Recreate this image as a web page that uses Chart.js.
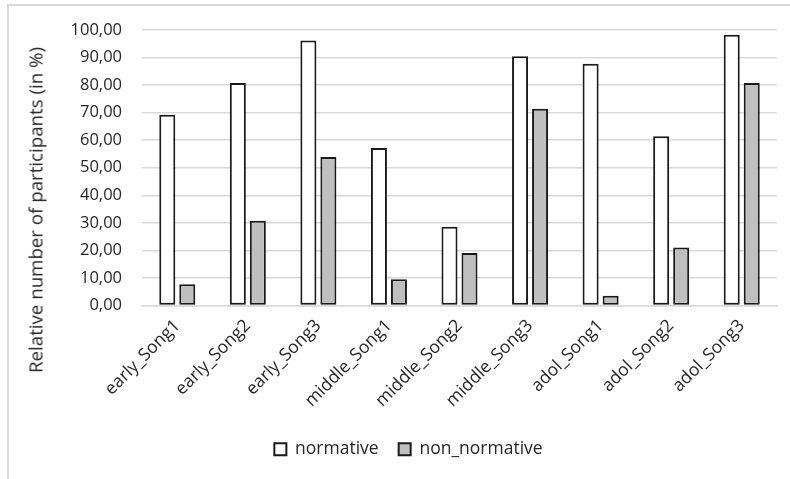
<!DOCTYPE html>
<html>
<head>
<meta charset="utf-8">
<script src="https://cdn.jsdelivr.net/npm/chart.js@4/dist/chart.umd.min.js"></script>
<style>
  html, body { margin: 0; padding: 0; background: #fff; }
  #frame { position: absolute; left: 7px; top: 4px; width: 800px; height: 500px;
           border-left: 2px solid #d9d9d9; border-top: 2px solid #d9d9d9; }
  #wrap { position: absolute; left: 0; top: 0; width: 790px; height: 479px; }
  #ytitle { position: absolute; left: 35px; top: 210px; transform: translate(-50%, -50%) rotate(-90deg);
            white-space: nowrap; font: 18.7px 'Open Sans', 'Noto Sans', sans-serif; color: #262626; }
</style>
</head>
<body>
<div id="frame"></div>
<div id="wrap"><canvas id="c" width="790" height="479"></canvas></div>
<div id="ytitle"></div>
<script>
const categories = ['early_Song1', 'early_Song2', 'early_Song3', 'middle_Song1', 'middle_Song2', 'middle_Song3', 'adol_Song1', 'adol_Song2', 'adol_Song3'];
const normative = [69.23, 80.77, 96.15, 57.14, 28.57, 90.48, 87.72, 61.40, 98.25];
const nonNormative = [7.69, 30.77, 53.85, 9.52, 19.05, 71.43, 3.51, 21.05, 80.70];
const yTitle = 'Relative number of participants (in %)';

const FONT = "'Open Sans', 'Noto Sans', sans-serif";
const TEXT = '#262626';

document.getElementById('ytitle').textContent = yTitle;

new Chart(document.getElementById('c'), {
  type: 'bar',
  data: {
    labels: categories,
    datasets: [
      { label: 'normative', data: normative, backgroundColor: '#ffffff', borderColor: '#1a1a1a', borderWidth: 2, borderSkipped: false },
      { label: 'non_normative', data: nonNormative, backgroundColor: '#bfbfbf', borderColor: '#1a1a1a', borderWidth: 2, borderSkipped: false },
    ],
  },
  options: {
    responsive: false,
    animation: false,
    datasets: { bar: { categoryPercentage: 0.567, barPercentage: 0.8 } },
    // left padding is large only to push the centred legend right; y width compensates
    layout: { padding: { left: 40, right: 13, top: 29, bottom: 11 } },
    plugins: {
      tooltip: { enabled: false },
      legend: {
        position: 'bottom',
        labels: { color: TEXT, font: { family: FONT, size: 17.5 }, boxWidth: 12, boxHeight: 12, padding: 20, useBorderRadius: false },
      },
    },
    scales: {
      x: {
        grid: { display: false, drawTicks: false },
        border: { display: true, color: '#d9d9d9', width: 1.5 },
        ticks: { color: TEXT, font: { family: FONT, size: 17.5 }, maxRotation: 45, minRotation: 45, autoSkip: false, padding: 10 },
        afterFit: (s) => { s.height = 115; },
      },
      y: {
        min: 0, max: 100,
        grid: { color: '#d9d9d9', lineWidth: 1.5, drawTicks: false },
        border: { display: false },
        ticks: {
          stepSize: 10, color: TEXT, font: { family: FONT, size: 16.5 }, padding: 20,
          callback: (v) => Number(v).toFixed(2).replace('.', ','),
        },
        afterFit: (s) => { s.width = 102; },
      },
    },
  },
});
</script>
</body>
</html>
